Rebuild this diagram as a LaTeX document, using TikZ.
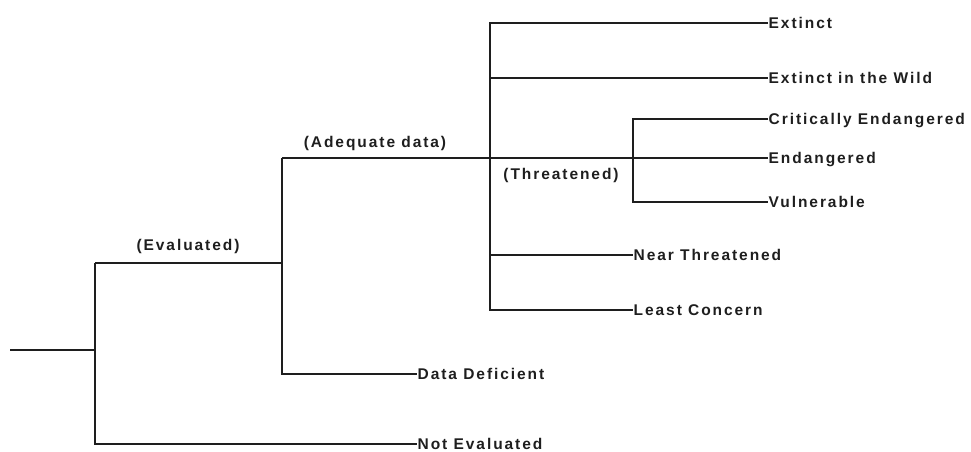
\documentclass[tikz,border=0pt]{standalone}
\usepackage{fontspec}
\setmainfont[LetterSpace=12.5]{Liberation Sans}
\definecolor{ink}{HTML}{1E1E1E}
\begin{document}
\begin{tikzpicture}[x=1pt,y=-1pt,
  line width=1.4pt, draw=ink,
  leaf/.style={anchor=west, inner sep=0pt, text=ink, text height=11pt, text depth=0pt,
    font=\bfseries\fontsize{15.5}{17}\selectfont},
  branch/.style={inner sep=0pt, text=ink, font=\bfseries\fontsize{15.5}{17}\selectfont}]
\useasboundingbox (0,0) rectangle (971,451);
% junction points
\coordinate (root) at (10,350);
\coordinate (j0) at (95,350);
\coordinate (ev) at (95,263);
\coordinate (ad) at (282,158);
\coordinate (tr) at (490,158);
\coordinate (tt) at (633,158);
% leaves
\node[leaf] (ex) at (768,23) {Extinct};
\node[leaf] (ew) at (768,78) {Extinct in the Wild};
\node[leaf] (ce) at (768,119) {Critically Endangered};
\node[leaf] (en) at (768,158) {Endangered};
\node[leaf] (vu) at (768,202) {Vulnerable};
\node[leaf] (nt) at (633,255) {Near Threatened};
\node[leaf] (lc) at (633,310) {Least Concern};
\node[leaf] (dd) at (417,374) {Data Deficient};
\node[leaf] (ne) at (417,444) {Not Evaluated};
% branch labels
\node[branch] (lev) at (188,246) {(Evaluated)};
\node[branch] (lad) at (375,143) {(Adequate data)};
\node[branch] (lth) at (561,175) {(Threatened)};
% connectors
\draw (root) -- (j0);
\draw (ev) |- (ne.west);
\draw (ev) -| (ad);
\draw (ad) |- (dd.west);
\draw (ad) -- (en.west);
\draw (ex.west) -| (tr);
\draw (tr) |- (lc.west);
\draw (tr |- ew.west) -- (ew.west);
\draw (tr |- nt.west) -- (nt.west);
\draw (ce.west) -| (tt) |- (vu.west);
\end{tikzpicture}
\end{document}
